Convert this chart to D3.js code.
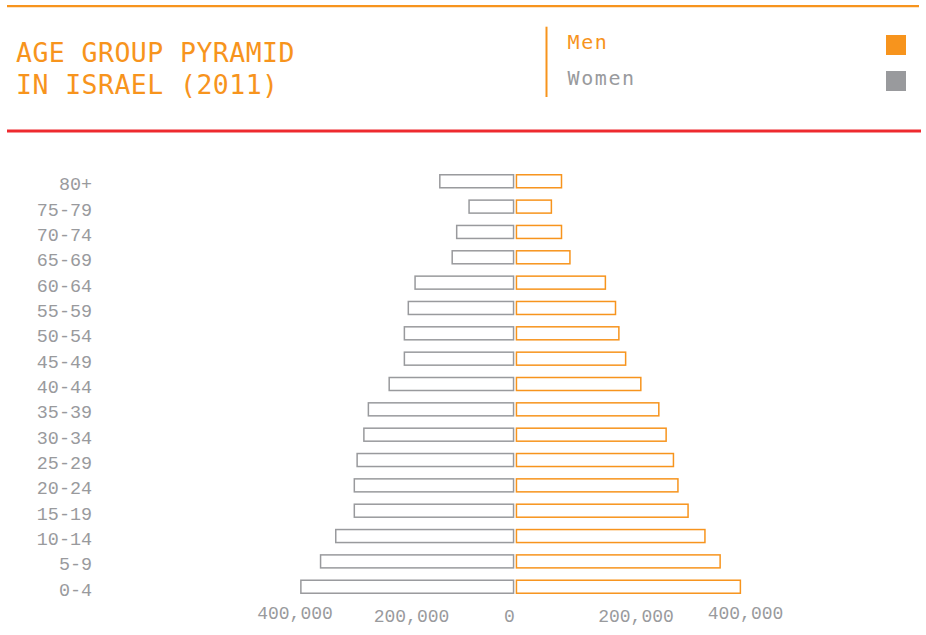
<!DOCTYPE html>
<html>
<head>
<meta charset="utf-8">
<script src="https://cdn.jsdelivr.net/npm/d3@7"></script>
<style>
  html, body { margin: 0; padding: 0; background: #fff; }
  svg { display: block; }
</style>
</head>
<body>
<svg id="chart" width="926" height="635"></svg>
<script>
// ---- data ----
const ageGroups = ["80+","75-79","70-74","65-69","60-64","55-59","50-54","45-49","40-44","35-39","30-34","25-29","20-24","15-19","10-14","5-9","0-4"];
const women = [135000, 83000, 105000, 113000, 179000, 191000, 198000, 198000, 225000, 262000, 270000, 282000, 287000, 287000, 320000, 347000, 382000];
const men   = [84000, 66000, 84000, 99000, 162000, 180000, 186000, 198000, 225000, 257000, 270000, 283000, 291000, 309000, 339000, 366000, 402000];
const xTickValues = [-400000, -200000, 0, 200000, 400000];
const titleLines = ["AGE GROUP PYRAMID", "IN ISRAEL (2011)"];
const legendLabels = ["Men", "Women"];

// ---- styles ----
const ORANGE = "#f7941d";
const GRAY = "#999a9d";
const RED = "#ee2a2f";
const MONO = "'Liberation Mono', 'DejaVu Sans Mono', monospace";

const svg = d3.select("#chart");

// header rules
svg.append("line").attr("x1", 7).attr("x2", 919).attr("y1", 6.2).attr("y2", 6.2)
  .attr("stroke", ORANGE).attr("stroke-width", 2.3);
svg.append("line").attr("x1", 7).attr("x2", 921).attr("y1", 131).attr("y2", 131)
  .attr("stroke", RED).attr("stroke-width", 3);

// title
const title = svg.append("g");
title.selectAll("text").data(titleLines).join("text")
  .attr("x", 16)
  .attr("y", (d, i) => 61.7 + i * 32.6)
  .attr("fill", ORANGE)
  .style("font-family", "'DejaVu Sans Mono', monospace")
  .style("font-size", "26.5px")
  .style("letter-spacing", "0.45px")
  .text(d => d);

// legend separator
svg.append("line").attr("x1", 546.5).attr("x2", 546.5).attr("y1", 26.7).attr("y2", 97)
  .attr("stroke", ORANGE).attr("stroke-width", 2);

const legendColors = d3.scaleOrdinal().domain(legendLabels).range([ORANGE, GRAY]);
const legend = svg.append("g").selectAll("g").data(legendLabels).join("g")
  .attr("transform", (d, i) => `translate(0, ${i * 36})`);
legend.append("text")
  .attr("x", 567.5).attr("y", 49.3)
  .attr("fill", d => legendColors(d))
  .style("font-family", "'DejaVu Sans Mono', monospace")
  .style("font-size", "20px")
  .style("letter-spacing", "1.6px")
  .text(d => d);
legend.append("rect")
  .attr("x", 886).attr("y", 35).attr("width", 20).attr("height", 20)
  .attr("fill", d => legendColors(d));

// ---- scales ----
const CX = 515;
const w = d3.scaleLinear().domain([0, 400000]).range([0, 225]);
const y = d3.scaleBand().domain(ageGroups).range([168.6, 599.4]).paddingInner(0.428).paddingOuter(0.214);
const SW = 1.5;

// women bars (left)
svg.append("g").selectAll("rect").data(ageGroups).join("rect")
  .attr("x", (d, i) => CX - w(women[i]) + SW / 2)
  .attr("y", d => y(d) + SW / 2)
  .attr("width", (d, i) => w(women[i]) - 0.7 - SW)
  .attr("height", y.bandwidth() - SW)
  .attr("fill", "#fff").attr("stroke", GRAY).attr("stroke-width", SW);

// men bars (right)
svg.append("g").selectAll("rect").data(ageGroups).join("rect")
  .attr("x", CX + 0.7 + SW / 2)
  .attr("y", d => y(d) + SW / 2)
  .attr("width", (d, i) => w(men[i]) - 0.7 - SW)
  .attr("height", y.bandwidth() - SW)
  .attr("fill", "#fff").attr("stroke", ORANGE).attr("stroke-width", SW);

// y axis labels
const yAxis = svg.append("g").attr("transform", "translate(92,0)")
  .call(d3.axisLeft(y).tickSize(0).tickPadding(0));
yAxis.select(".domain").remove();
yAxis.selectAll("text")
  .attr("dy", 9)
  .attr("fill", GRAY)
  .style("font-family", MONO)
  .style("font-size", "18.4px");

// x axis labels
const xs = d3.scaleLinear().domain([-400000, 400000]).range([CX - 225, CX + 225]);
const fmt = d3.format(",");
const xAxis = svg.append("g")
  .call(d3.axisBottom(xs).tickValues(xTickValues).tickSize(0).tickPadding(0).tickFormat(d => fmt(Math.abs(d))));
xAxis.select(".domain").remove();
// small hand nudges to match the original label placement
const nudgeX = { "-400000": 4.5, "-200000": 8.5, "0": -6, "200000": 8, "400000": 5 };
const baseY = { "-400000": 619.3, "-200000": 621.5, "0": 621.5, "200000": 621.5, "400000": 619.3 };
xAxis.selectAll(".tick").each(function(d) {
  d3.select(this).select("text")
    .attr("x", nudgeX[String(d)])
    .attr("y", baseY[String(d)])
    .attr("dy", 0)
    .attr("fill", GRAY)
    .style("font-family", MONO)
    .style("font-size", "18px");
});
</script>
</body>
</html>
